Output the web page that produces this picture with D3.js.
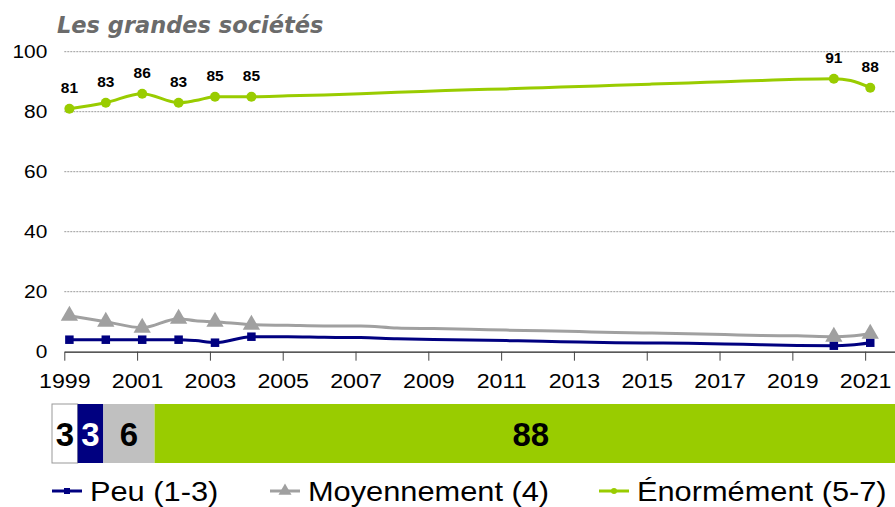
<!DOCTYPE html>
<html>
<head>
<meta charset="utf-8">
<script src="https://cdn.jsdelivr.net/npm/d3@7"></script>
<style>
  body { margin: 0; background: #fff; }
  svg { display: block; font-family: "Liberation Sans", Arial, sans-serif; }
</style>
</head>
<body>
<svg id="chart" width="895" height="507"></svg>
<script>
// survey dates (fractional years, surveys held early in the year)
const surveyDates = [1999.14, 2000.14, 2001.14, 2002.14, 2002.6, 2003.14, 2004.14, 2005.14, 2006.14,
  2007.14, 2008.14, 2009.14, 2010.14, 2011.14, 2012.14, 2013.14, 2014.14, 2015.14, 2016.14,
  2017.14, 2018.14, 2019.14, 2020.14, 2020.6, 2021.14];
const markedDates = [1999.14, 2000.14, 2001.14, 2002.14, 2003.14, 2004.14, 2020.14, 2021.14];

const peu = [4, 4, 4, 4, 3.7, 3, 5, 5, 4.8, 4.7, 4.3, 4.1, 3.9, 3.7, 3.5, 3.2, 3.0, 2.9, 2.8, 2.6, 2.3, 2.1, 2, 2.2, 3];
const moyennement = [12, 10, 8, 11, 10.3, 10, 9, 8.8, 8.6, 8.6, 7.9, 7.7, 7.5, 7.2, 7.0, 6.7, 6.4, 6.2, 6.0, 5.7, 5.4, 5.3, 5, 5.2, 6];
const enormement = [81, 83, 86, 83, 83.7, 85, 85, 85.3, 85.6, 86.0, 86.5, 86.9, 87.3, 87.6, 88.0, 88.4, 88.8, 89.2, 89.6, 90.0, 90.4, 90.8, 91, 90.4, 88];

const xTicks = [1999, 2001, 2003, 2005, 2007, 2009, 2011, 2013, 2015, 2017, 2019, 2021];
const yTicks = [0, 20, 40, 60, 80, 100];

const barCategories = ["Sans réponse", "Peu (1-3)", "Moyennement (4)", "Énormément (5-7)"];
const barValues = [3, 3, 6, 88];

const title = "Les grandes sociétés";

const seriesDefs = [
  { name: "Peu (1-3)", values: peu, color: "#000080", marker: "square" },
  { name: "Moyennement (4)", values: moyennement, color: "#a0a0a0", marker: "triangle" },
  { name: "Énormément (5-7)", values: enormement, color: "#99cc00", marker: "circle", labels: true }
];

const svg = d3.select("#chart");
const W = 895;
const stretch = 1.16; // regular text in the original is a bit wide

const x = d3.scaleLinear().domain([1999, 2021.82]).range([64.3, W]);
const y = d3.scaleLinear().domain([0, 100]).range([351.7, 51.7]);

// title
svg.append("text")
  .attr("x", 57).attr("y", 33)
  .attr("font-family", "'DejaVu Sans', sans-serif")
  .attr("font-size", 22.5).attr("font-weight", "bold").attr("font-style", "italic")
  .attr("fill", "#6b6b6b")
  .text(title);

// gridlines
svg.append("g").selectAll("line")
  .data(yTicks.filter(d => d > 0))
  .join("line")
  .attr("x1", x(1999)).attr("x2", W)
  .attr("y1", d => y(d)).attr("y2", d => y(d))
  .attr("stroke", "#9a9a9a").attr("stroke-width", 1)
  .attr("stroke-dasharray", "2,1");

// y axis
const yAxis = svg.append("g")
  .attr("transform", `translate(${x(1999)},0)`)
  .call(d3.axisLeft(y).tickValues(yTicks).tickSize(0).tickPadding(17));
yAxis.select(".domain").remove();
yAxis.selectAll("text")
  .attr("font-size", 19).attr("fill", "#000")
  .attr("font-family", "'Liberation Sans', Arial, sans-serif")
  .attr("x", -17 / 1.1)
  .attr("transform", "scale(1.1,1)");

// x axis
const xAxis = svg.append("g")
  .attr("transform", `translate(0,${y(0)})`)
  .call(d3.axisBottom(x).tickValues(xTicks).tickFormat(d3.format("d")).tickSize(9).tickSizeOuter(0).tickPadding(13));
xAxis.select(".domain").attr("stroke", "#222").attr("stroke-width", 1.2);
xAxis.selectAll(".tick line").attr("stroke", "#444");
xAxis.selectAll("text")
  .attr("font-size", 20).attr("fill", "#000")
  .attr("font-family", "'Liberation Sans', Arial, sans-serif")
  .attr("transform", `scale(${stretch},1)`);

const line = d3.line()
  .x(d => x(d[0]))
  .y(d => y(d[1]))
  .curve(d3.curveMonotoneX);

function drawMarker(g, type, color, size) {
  if (type === "square") {
    g.append("rect").attr("x", -size / 2).attr("y", -size / 2)
      .attr("width", size).attr("height", size).attr("fill", color);
  } else if (type === "triangle") {
    g.append("path").attr("d", d3.symbol(d3.symbolTriangle, size * size * 0.9)()).attr("fill", color);
  } else {
    g.append("circle").attr("r", size / 2).attr("fill", color);
  }
}

const markerSize = { square: 8.5, triangle: 12, circle: 10 };

seriesDefs.forEach(s => {
  const pts = surveyDates.map((d, i) => [d, s.values[i]]);
  svg.append("path")
    .datum(pts)
    .attr("d", line)
    .attr("fill", "none")
    .attr("stroke", s.color)
    .attr("stroke-width", 3);
  const marked = pts.filter(p => markedDates.includes(p[0]));
  marked.forEach(p => {
    const g = svg.append("g").attr("transform", `translate(${x(p[0])},${y(p[1])})`);
    drawMarker(g, s.marker, s.color, markerSize[s.marker]);
    if (s.labels) {
      g.append("text")
        .attr("y", -16)
        .attr("text-anchor", "middle")
        .attr("font-size", 15.5).attr("font-weight", "bold").attr("fill", "#000")
        .text(d3.format("d")(p[1]));
    }
  });
});

// stacked bar for the latest survey
const xb = d3.scaleLinear().domain([0, 100]).range([52, 907]);
const barColors = ["#ffffff", "#000080", "#c0c0c0", "#99cc00"];
const barText = ["#000", "#fff", "#000", "#000"];
let acc = 0;
const segs = barValues.map((v, i) => { const s = { i, v, x0: acc, x1: acc + v }; acc += v; return s; });
const barY = 404, barH = 59;
const bar = svg.append("g");
bar.selectAll("rect")
  .data(segs)
  .join("rect")
  .attr("x", d => xb(d.x0)).attr("y", barY)
  .attr("width", d => xb(d.x1) - xb(d.x0)).attr("height", barH)
  .attr("fill", d => barColors[d.i])
  .attr("stroke", d => d.i === 0 ? "#999" : "none")
  .attr("stroke-width", 1);
bar.selectAll("text")
  .data(segs)
  .join("text")
  .attr("x", d => (xb(d.x0) + xb(d.x1)) / 2)
  .attr("y", barY + barH / 2 + 12)
  .attr("text-anchor", "middle")
  .attr("font-size", 33).attr("font-weight", "bold")
  .attr("fill", d => barText[d.i])
  .text(d => d.v);

// legend
const legendX = [52, 270, 599];
const legend = svg.append("g");
seriesDefs.forEach((s, i) => {
  const g = legend.append("g").attr("transform", `translate(${legendX[i]},491)`);
  g.append("line").attr("x1", 0).attr("x2", 30).attr("stroke", s.color).attr("stroke-width", 3);
  const m = g.append("g").attr("transform", "translate(15,0)");
  drawMarker(m, s.marker, s.color, s.marker === "triangle" ? 9 : 6);
  g.append("text").attr("x", 38 / 1.14).attr("y", 9.5)
    .attr("transform", "scale(1.14,1)")
    .attr("font-size", 27).attr("fill", "#000")
    .text(s.name);
});
</script>
</body>
</html>
